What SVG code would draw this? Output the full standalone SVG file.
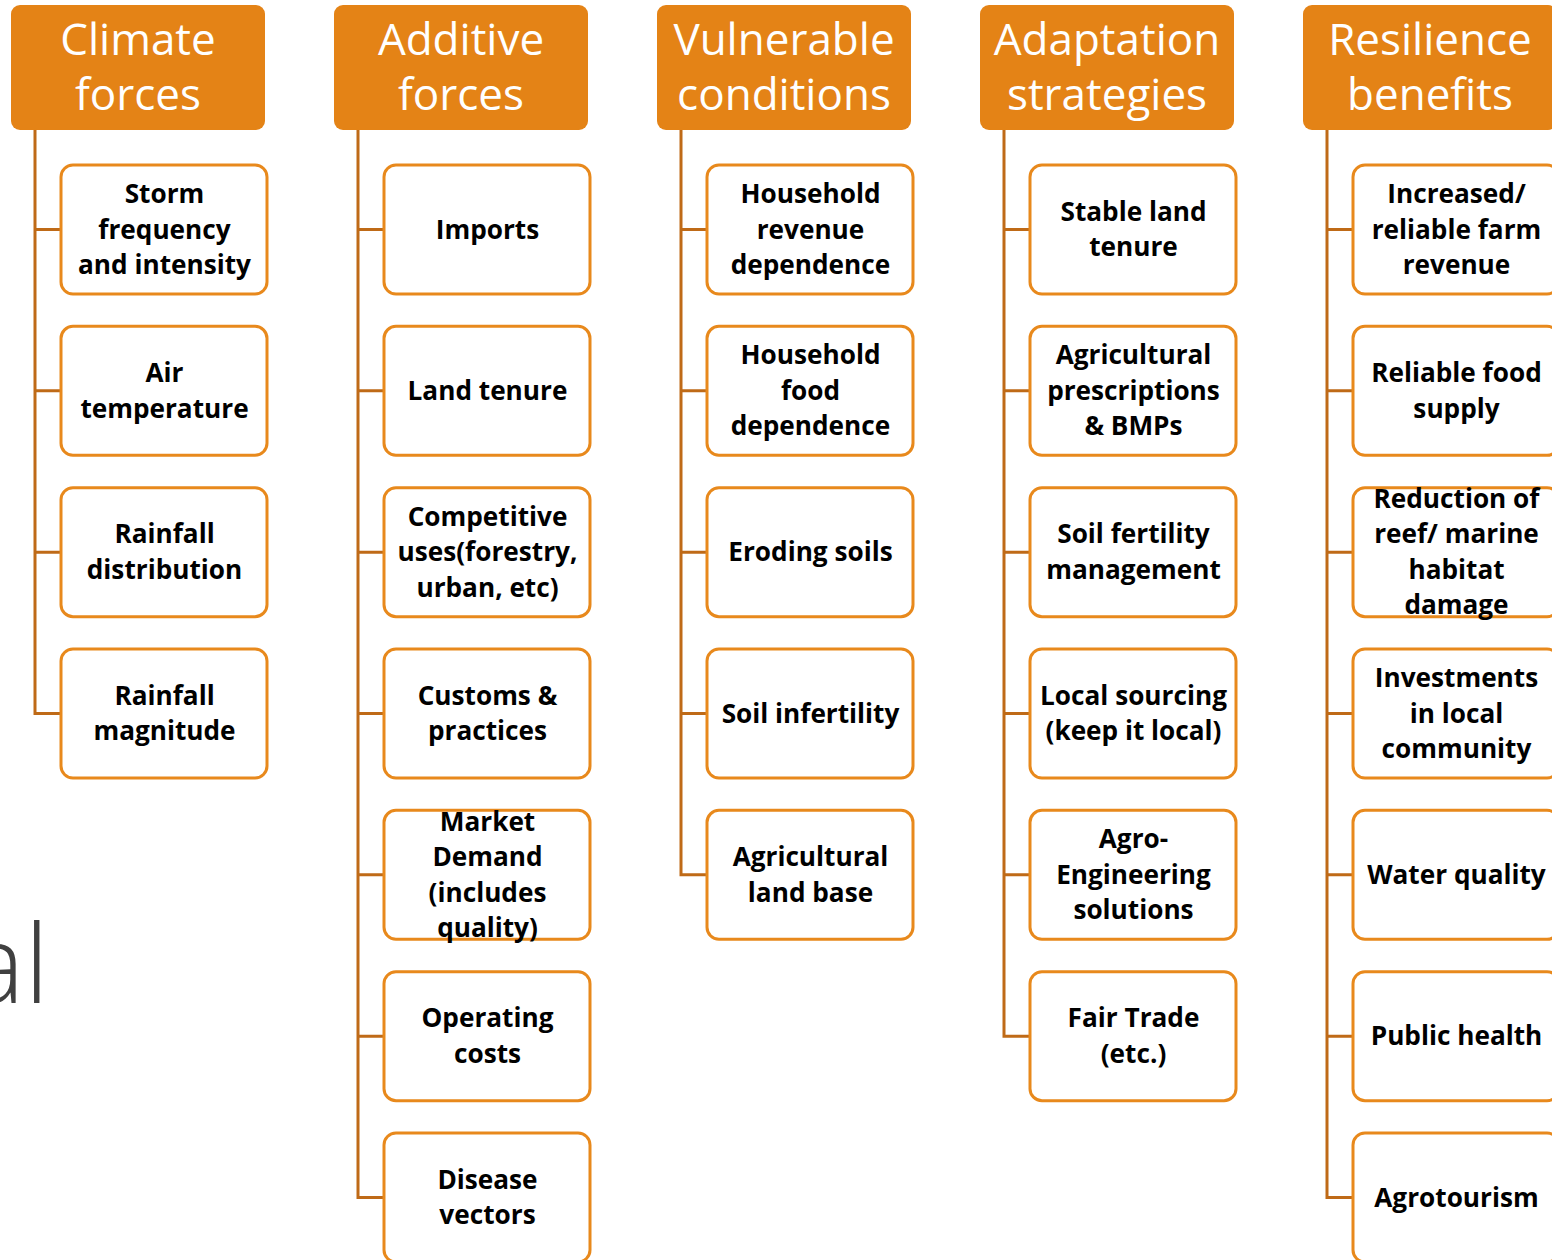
<svg xmlns="http://www.w3.org/2000/svg" width="1552" height="1260" viewBox="0 0 1552 1260">
<style>
.hd{fill:#E48316;}
.ht{font-family:"Open Sans","Liberation Sans",sans-serif;font-size:44px;fill:#FFFFFF;text-anchor:middle;}
.bx{fill:#FFFFFF;stroke:#E8891C;stroke-width:3;}
.bt{font-family:"Open Sans","Liberation Sans",sans-serif;font-size:26.2px;font-weight:bold;fill:#000000;text-anchor:middle;}
.cn{fill:none;stroke:#BF6A17;stroke-width:3;}
.bg{font-family:"Open Sans","Liberation Sans",sans-serif;font-size:108px;font-weight:300;fill:#404040;text-anchor:end;}
</style>
<rect width="1552" height="1260" fill="#FFFFFF"/>
<text class="bg" x="49" y="1003">al</text>
<g id="connectors">
<path class="cn" d="M35 130V713.5H61M35 229.5H61M35 390.8H61M35 552.2H61"/>
<path class="cn" d="M358 130V1197.5H384M358 229.5H384M358 390.8H384M358 552.2H384M358 713.5H384M358 874.8H384M358 1036.2H384"/>
<path class="cn" d="M681 130V874.8H707M681 229.5H707M681 390.8H707M681 552.2H707M681 713.5H707"/>
<path class="cn" d="M1004 130V1036.2H1030M1004 229.5H1030M1004 390.8H1030M1004 552.2H1030M1004 713.5H1030M1004 874.8H1030"/>
<path class="cn" d="M1327 130V1197.5H1353M1327 229.5H1353M1327 390.8H1353M1327 552.2H1353M1327 713.5H1353M1327 874.8H1353M1327 1036.2H1353"/>
</g>
<!-- Column 1 -->
<g id="h1"><rect class="hd" x="11" y="5" width="254" height="125" rx="9"/><text class="ht" x="138" y="55">Climate</text><text class="ht" x="138" y="110">forces</text></g>
<g id="c1r0"><rect class="bx" x="61" y="165" width="206" height="129" rx="12"/><text class="bt" x="164.5" y="203">Storm</text><text class="bt" x="164.5" y="238.5">frequency</text><text class="bt" x="164.5" y="274">and intensity</text></g>
<g id="c1r1"><rect class="bx" x="61" y="326.3" width="206" height="129" rx="12"/><text class="bt" x="164.5" y="382">Air</text><text class="bt" x="164.5" y="417.5">temperature</text></g>
<g id="c1r2"><rect class="bx" x="61" y="487.7" width="206" height="129" rx="12"/><text class="bt" x="164.5" y="543.4">Rainfall</text><text class="bt" x="164.5" y="578.9">distribution</text></g>
<g id="c1r3"><rect class="bx" x="61" y="649" width="206" height="129" rx="12"/><text class="bt" x="164.5" y="704.7">Rainfall</text><text class="bt" x="164.5" y="740.2">magnitude</text></g>
<!-- Column 2 -->
<g id="h2"><rect class="hd" x="334" y="5" width="254" height="125" rx="9"/><text class="ht" x="461" y="55">Additive</text><text class="ht" x="461" y="110">forces</text></g>
<g id="c2r0"><rect class="bx" x="384" y="165" width="206" height="129" rx="12"/><text class="bt" x="487.5" y="238.5">Imports</text></g>
<g id="c2r1"><rect class="bx" x="384" y="326.3" width="206" height="129" rx="12"/><text class="bt" x="487.5" y="399.8">Land tenure</text></g>
<g id="c2r2"><rect class="bx" x="384" y="487.7" width="206" height="129" rx="12"/><text class="bt" x="487.5" y="525.7">Competitive</text><text class="bt" x="487.5" y="561.2">uses(forestry,</text><text class="bt" x="487.5" y="596.7">urban, etc)</text></g>
<g id="c2r3"><rect class="bx" x="384" y="649" width="206" height="129" rx="12"/><text class="bt" x="487.5" y="704.7">Customs &amp;</text><text class="bt" x="487.5" y="740.2">practices</text></g>
<g id="c2r4"><rect class="bx" x="384" y="810.3" width="206" height="129" rx="12"/><text class="bt" x="487.5" y="830.5">Market</text><text class="bt" x="487.5" y="866">Demand</text><text class="bt" x="487.5" y="901.5">(includes</text><text class="bt" x="487.5" y="937">quality)</text></g>
<g id="c2r5"><rect class="bx" x="384" y="971.7" width="206" height="129" rx="12"/><text class="bt" x="487.5" y="1027.4">Operating</text><text class="bt" x="487.5" y="1062.9">costs</text></g>
<g id="c2r6"><rect class="bx" x="384" y="1133" width="206" height="129" rx="12"/><text class="bt" x="487.5" y="1188.7">Disease</text><text class="bt" x="487.5" y="1224.2">vectors</text></g>
<!-- Column 3 -->
<g id="h3"><rect class="hd" x="657" y="5" width="254" height="125" rx="9"/><text class="ht" x="784" y="55">Vulnerable</text><text class="ht" x="784" y="110">conditions</text></g>
<g id="c3r0"><rect class="bx" x="707" y="165" width="206" height="129" rx="12"/><text class="bt" x="810.5" y="203">Household</text><text class="bt" x="810.5" y="238.5">revenue</text><text class="bt" x="810.5" y="274">dependence</text></g>
<g id="c3r1"><rect class="bx" x="707" y="326.3" width="206" height="129" rx="12"/><text class="bt" x="810.5" y="364.3">Household</text><text class="bt" x="810.5" y="399.8">food</text><text class="bt" x="810.5" y="435.3">dependence</text></g>
<g id="c3r2"><rect class="bx" x="707" y="487.7" width="206" height="129" rx="12"/><text class="bt" x="810.5" y="561.2">Eroding soils</text></g>
<g id="c3r3"><rect class="bx" x="707" y="649" width="206" height="129" rx="12"/><text class="bt" x="810.5" y="722.5">Soil infertility</text></g>
<g id="c3r4"><rect class="bx" x="707" y="810.3" width="206" height="129" rx="12"/><text class="bt" x="810.5" y="866">Agricultural</text><text class="bt" x="810.5" y="901.5">land base</text></g>
<!-- Column 4 -->
<g id="h4"><rect class="hd" x="980" y="5" width="254" height="125" rx="9"/><text class="ht" x="1107" y="55">Adaptation</text><text class="ht" x="1107" y="110">strategies</text></g>
<g id="c4r0"><rect class="bx" x="1030" y="165" width="206" height="129" rx="12"/><text class="bt" x="1133.5" y="220.7">Stable land</text><text class="bt" x="1133.5" y="256.2">tenure</text></g>
<g id="c4r1"><rect class="bx" x="1030" y="326.3" width="206" height="129" rx="12"/><text class="bt" x="1133.5" y="364.3">Agricultural</text><text class="bt" x="1133.5" y="399.8">prescriptions</text><text class="bt" x="1133.5" y="435.3">&amp; BMPs</text></g>
<g id="c4r2"><rect class="bx" x="1030" y="487.7" width="206" height="129" rx="12"/><text class="bt" x="1133.5" y="543.4">Soil fertility</text><text class="bt" x="1133.5" y="578.9">management</text></g>
<g id="c4r3"><rect class="bx" x="1030" y="649" width="206" height="129" rx="12"/><text class="bt" x="1133.5" y="704.7">Local sourcing</text><text class="bt" x="1133.5" y="740.2">(keep it local)</text></g>
<g id="c4r4"><rect class="bx" x="1030" y="810.3" width="206" height="129" rx="12"/><text class="bt" x="1133.5" y="848.3">Agro-</text><text class="bt" x="1133.5" y="883.8">Engineering</text><text class="bt" x="1133.5" y="919.3">solutions</text></g>
<g id="c4r5"><rect class="bx" x="1030" y="971.7" width="206" height="129" rx="12"/><text class="bt" x="1133.5" y="1027.4">Fair Trade</text><text class="bt" x="1133.5" y="1062.9">(etc.)</text></g>
<!-- Column 5 -->
<g id="h5"><rect class="hd" x="1303" y="5" width="254" height="125" rx="9"/><text class="ht" x="1430" y="55">Resilience</text><text class="ht" x="1430" y="110">benefits</text></g>
<g id="c5r0"><rect class="bx" x="1353" y="165" width="206" height="129" rx="12"/><text class="bt" x="1456.5" y="203">Increased/</text><text class="bt" x="1456.5" y="238.5">reliable farm</text><text class="bt" x="1456.5" y="274">revenue</text></g>
<g id="c5r1"><rect class="bx" x="1353" y="326.3" width="206" height="129" rx="12"/><text class="bt" x="1456.5" y="382">Reliable food</text><text class="bt" x="1456.5" y="417.5">supply</text></g>
<g id="c5r2"><rect class="bx" x="1353" y="487.7" width="206" height="129" rx="12"/><text class="bt" x="1456.5" y="507.9">Reduction of</text><text class="bt" x="1456.5" y="543.4">reef/ marine</text><text class="bt" x="1456.5" y="578.9">habitat</text><text class="bt" x="1456.5" y="614.4">damage</text></g>
<g id="c5r3"><rect class="bx" x="1353" y="649" width="206" height="129" rx="12"/><text class="bt" x="1456.5" y="687">Investments</text><text class="bt" x="1456.5" y="722.5">in local</text><text class="bt" x="1456.5" y="758">community</text></g>
<g id="c5r4"><rect class="bx" x="1353" y="810.3" width="206" height="129" rx="12"/><text class="bt" x="1456.5" y="883.8">Water quality</text></g>
<g id="c5r5"><rect class="bx" x="1353" y="971.7" width="206" height="129" rx="12"/><text class="bt" x="1456.5" y="1045.2">Public health</text></g>
<g id="c5r6"><rect class="bx" x="1353" y="1133" width="206" height="129" rx="12"/><text class="bt" x="1456.5" y="1206.5">Agrotourism</text></g>
</svg>
